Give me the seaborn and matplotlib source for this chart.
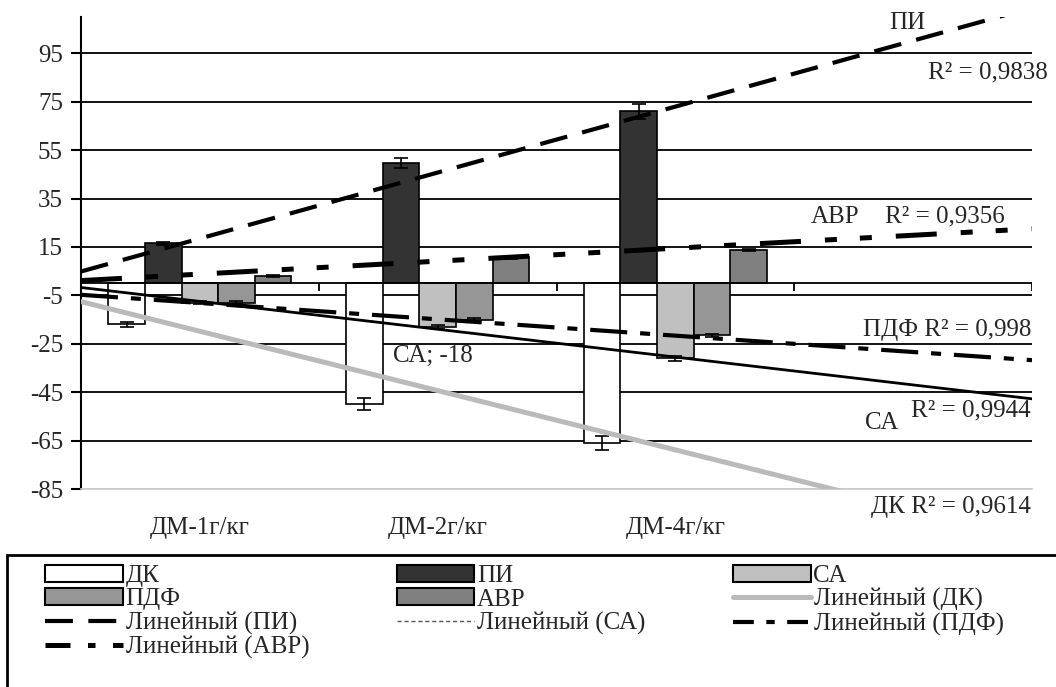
import numpy as np
import pandas as pd
import matplotlib
matplotlib.use("Agg")
import matplotlib.pyplot as plt
import seaborn as sns
from matplotlib.patches import Patch, Rectangle
from matplotlib.lines import Line2D

sns.set_theme(style="white")
plt.rcParams['font.family'] = ['Liberation Serif', 'DejaVu Serif']
plt.rcParams['axes.unicode_minus'] = False
FS = 18

# данные
categories = ["ДМ-1г/кг", "ДМ-2г/кг", "ДМ-4г/кг"]
slots = categories + [" "]  # пустая четвёртая категория
series = ["ДК", "ПИ", "СА", "ПДФ", "АВР"]

dk = [-17, -50, -66]
pi = [16.5, 49.7, 71]
sa = [-8, -18, -31]
pdf_ = [-8, -15.2, -21.5]
avr = [3, 10.7, 13.7]

dk_err = [1, 2.5, 3]
pi_err = [0.7, 2, 3]
sa_err = [0.6, 0.8, 1]
pdf_err = [0.5, 0.7, 0.7]
avr_err = [0.5, 0.5, 0.5]

r2 = {"ДК": "0,9614", "ПИ": "0,9838", "СА": "0,9944", "ПДФ": "0,998", "АВР": "0,9356"}

values = {"ДК": dk, "ПИ": pi, "СА": sa, "ПДФ": pdf_, "АВР": avr}
errors = {"ДК": dk_err, "ПИ": pi_err, "СА": sa_err, "ПДФ": pdf_err, "АВР": avr_err}
colors = {"ДК": "#ffffff", "ПИ": "#333333", "СА": "#c0c0c0", "ПДФ": "#969696", "АВР": "#808080"}

df = pd.DataFrame([(c, s, values[s][i]) for s in series for i, c in enumerate(categories)],
                  columns=["cat", "series", "val"])

fig = plt.figure(figsize=(10.56, 6.87), dpi=100)
ax = fig.add_axes([81/1056, 1-489/687, (1032-81)/1056, (489-17)/687])

sns.barplot(data=df, x="cat", y="val", hue="series", order=slots, hue_order=series,
            palette=colors, width=0.77, edgecolor="black", linewidth=1.2,
            errorbar=None, legend=False, ax=ax, saturation=1)

# планки погрешностей
for cont, s in zip(ax.containers, series):
    xs = [b.get_x() + b.get_width()/2 for b in cont]
    ys = [b.get_y() + b.get_height() for b in cont]
    ax.errorbar(xs, ys, yerr=errors[s], fmt="none", ecolor="black",
                elinewidth=1.2, capsize=5, capthick=1.2, zorder=3)

ax.set_xlim(-0.5, 3.5)
ax.set_ylim(-85, 110)

# линии тренда
trend = {
    "ДК": dict(color="#bababa", lw=3.6),
    "ПИ": dict(color="black", lw=3, dashes=(6.7, 3.7)),
    "СА": dict(color="black", lw=2),
    "ПДФ": dict(color="black", lw=3, dashes=(8.9, 3.1, 2.4, 3.1)),
    "АВР": dict(color="black", lw=3.6, dashes=(8.2, 4.8, 2.4, 4.6, 2.4, 4.8)),
}
pos = np.arange(len(categories))
for s in series:
    sns.regplot(x=pos, y=np.array(values[s]), ax=ax, scatter=False, ci=None,
                truncate=False, line_kws=dict(zorder=4, **trend[s]))

ax.set_xlim(-0.5, 3.5)
ax.set_ylim(-85, 110)
ax.set_xlabel("")
ax.set_ylabel("")

# оси и сетка
ax.set_yticks(np.arange(-85, 96, 20))
ax.yaxis.grid(True, color="black", lw=1.3)
ax.set_axisbelow(True)
ax.get_ygridlines()[0].set_color("#cccccc")
for sp in ["top", "right"]:
    ax.spines[sp].set_visible(False)
ax.spines["left"].set_color("black")
ax.spines["left"].set_linewidth(1.5)
ax.spines["bottom"].set_color("#cccccc")
ax.tick_params(axis="y", direction="out", length=7, width=1.5, color="black",
               labelsize=FS, left=True, pad=6)
ax.tick_params(axis="x", length=0, pad=20, labelsize=FS)
ax.axhline(0, color="black", lw=1.3, zorder=2)
ax.vlines(np.arange(0.5, 3.6, 1), -3.4, 0, color="black", lw=1.3, zorder=2)

# подписи
ax.text(2.974, 107.5, "ПИ", fontsize=FS, ha="center", va="center")
ax.text(3.567, 86.9, "R² = " + r2["ПИ"], fontsize=FS, ha="right", va="center")
ax.text(2.671, 27.4, "АВР", fontsize=FS, ha="center", va="center")
ax.text(2.882, 27.4, "R² = " + r2["АВР"], fontsize=FS, ha="left", va="center")
ax.text(3.496, -19.3, "ПДФ R² = " + r2["ПДФ"], fontsize=FS, ha="right", va="center")
ax.text(2.869, -57.8, "СА", fontsize=FS, ha="center", va="center")
ax.text(3.496, -52.4, "R² = " + r2["СА"], fontsize=FS, ha="right", va="center")
ax.text(3.496, -92.5, "ДК R² = " + r2["ДК"], fontsize=FS, ha="right", va="center")
sa_bar = ax.containers[2][1]
ax.text(sa_bar.get_x() + sa_bar.get_width()/2 - 0.02, -30.1, "СА; %d" % sa[1],
        fontsize=FS, ha="center", va="center")

# легенда
h = {s: Patch(facecolor=colors[s], edgecolor="black", lw=1.5) for s in series}
l = {
    "ДК": Line2D([], [], color="#bababa", lw=3.6),
    "ПИ": Line2D([], [], color="black", lw=3, dashes=(6.7, 3.7)),
    "СА": Line2D([], [], color="#555555", lw=1, dashes=(3, 2)),
    "ПДФ": Line2D([], [], color="black", lw=3, dashes=(5, 3, 2, 3)),
    "АВР": Line2D([], [], color="black", lw=3.6, dashes=(5, 3.5, 1.5, 3.5)),
}
order = [("ДК", h["ДК"]), ("ПДФ", h["ПДФ"]), ("Линейный (ПИ)", l["ПИ"]), ("Линейный (АВР)", l["АВР"]),
         ("ПИ", h["ПИ"]), ("АВР", h["АВР"]), ("Линейный (СА)", l["СА"]),
         ("СА", h["СА"]), ("Линейный (ДК)", l["ДК"]), ("Линейный (ПДФ)", l["ПДФ"])]
fig.legend([o[1] for o in order], [o[0] for o in order], loc="upper left",
           bbox_to_anchor=(45/1056, 1-565/687), ncol=3, frameon=False,
           fontsize=FS, handlelength=3.1, handletextpad=0.12, columnspacing=3.5,
           labelspacing=0.05, borderpad=0, borderaxespad=0, handleheight=0.65)
fig.add_artist(Rectangle((7/1056, -0.1), 1.1, 0.1 + 1-555/687, transform=fig.transFigure,
                         fill=False, ec="black", lw=2))

fig.savefig("out.png", dpi=100)
